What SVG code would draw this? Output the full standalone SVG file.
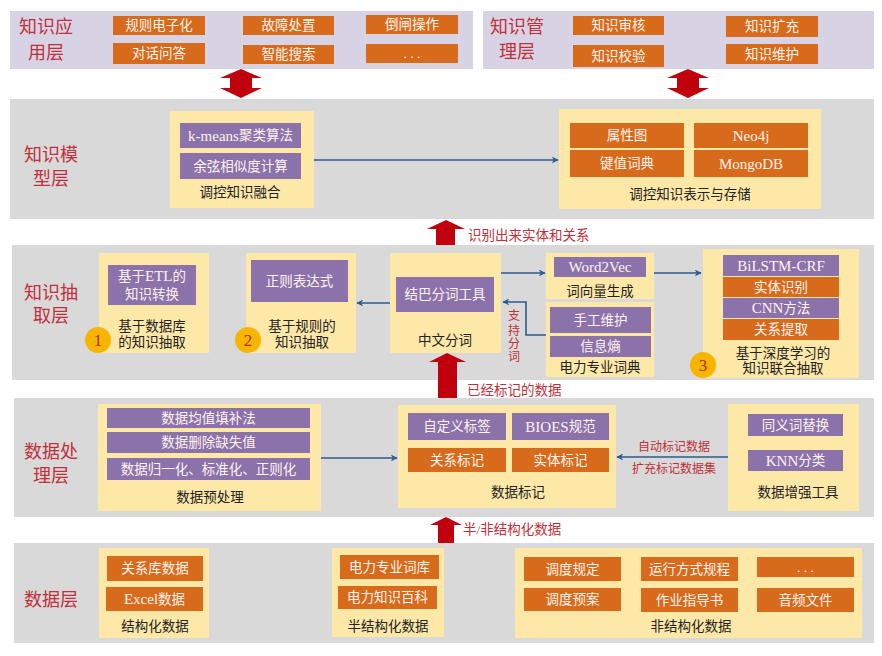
<svg xmlns="http://www.w3.org/2000/svg" width="882" height="656" viewBox="0 0 882 656">
<style>
text{font-family:"Liberation Serif","Noto Sans CJK SC",serif;dominant-baseline:central;text-anchor:middle}
.lav{fill:#d8d3e4}
.gray{fill:#d9d9d9}
.yel{fill:#fde8a8}
.org{fill:#d86a1c}
.pur{fill:#8c72aa}
.lt{fill:#fff4ee;font-size:13.5px}
.ll{fill:#fff4ee;font-size:15px}
.lb{fill:#222;font-size:13.5px}
.lay{fill:#c0303a;font-size:18px}
.rl{fill:#c0303a;font-size:13.5px;text-anchor:start}
.sr{fill:#c0303a;font-size:12px}
.circ{fill:#f7b500}
.cn{fill:#a8321a;font-size:17px}
.bl{stroke:#2e5a8c;stroke-width:1.6;fill:none}
.ra{fill:#c0000d}
</style>
<defs>
<marker id="ah" viewBox="0 0 10 10" refX="9" refY="5" markerWidth="7" markerHeight="7" orient="auto" markerUnits="userSpaceOnUse">
<path d="M0,0 L10,5 L0,10 L3,5 Z" fill="#2e5a8c"/>
</marker>
</defs>
<rect width="882" height="656" fill="#fff"/>

<!-- Layers -->
<g id="layer-app">
<rect class="lav" x="10" y="11" width="463" height="58"/>
<text class="lay" x="46" y="27">知识应</text>
<text class="lay" x="46" y="53">用层</text>
</g>
<g id="layer-mgmt">
<rect class="lav" x="483" y="11" width="391" height="58"/>
<text class="lay" x="517" y="27">知识管</text>
<text class="lay" x="517" y="52">理层</text>
</g>
<g id="layer-model">
<rect class="gray" x="10" y="99" width="864" height="120"/>
<text class="lay" x="51" y="155">知识模</text>
<text class="lay" x="51" y="179">型层</text>
</g>
<g id="layer-extract">
<rect class="gray" x="12" y="245" width="862" height="135"/>
<text class="lay" x="51" y="293">知识抽</text>
<text class="lay" x="51" y="316">取层</text>
</g>
<g id="layer-process">
<rect class="gray" x="14" y="398" width="860" height="119"/>
<text class="lay" x="51" y="452">数据处</text>
<text class="lay" x="51" y="476">理层</text>
</g>
<g id="layer-data">
<rect class="gray" x="14" y="543" width="860" height="100"/>
<text class="lay" x="51" y="600">数据层</text>
</g>

<!-- App layer items -->
<g id="app-items">
<rect class="org" x="113" y="16" width="92" height="19"/><text class="lt" x="159" y="25.5">规则电子化</text>
<rect class="org" x="113" y="43" width="92" height="21"/><text class="lt" x="159" y="53.5">对话问答</text>
<rect class="org" x="243" y="16" width="91" height="19"/><text class="lt" x="288.5" y="25.5">故障处置</text>
<rect class="org" x="243" y="45" width="91" height="19"/><text class="lt" x="288.5" y="54.5">智能搜索</text>
<rect class="org" x="366" y="15" width="92" height="19"/><text class="lt" x="412" y="24.5">倒闸操作</text>
<rect class="org" x="366" y="44" width="92" height="19"/><text class="lt" x="412" y="53.5">. . .</text>
</g>
<g id="mgmt-items">
<rect class="org" x="573" y="16" width="91" height="19"/><text class="lt" x="618.5" y="25.5">知识审核</text>
<rect class="org" x="573" y="45" width="91" height="22"/><text class="lt" x="618.5" y="56">知识校验</text>
<rect class="org" x="726" y="16" width="92" height="21"/><text class="lt" x="772" y="26.5">知识扩充</text>
<rect class="org" x="726" y="44" width="92" height="20"/><text class="lt" x="772" y="54">知识维护</text>
</g>

<!-- Model layer -->
<g id="node-fusion">
<rect class="yel" x="170" y="111" width="144" height="97"/>
<rect class="pur" x="180" y="123" width="121" height="25"/><text class="lt" x="240.5" y="135.5"><tspan font-size="15">k-means</tspan>聚类算法</text>
<rect class="pur" x="180" y="153" width="121" height="26"/><text class="lt" x="240.5" y="166">余弦相似度计算</text>
<text class="lb" x="240" y="192">调控知识融合</text>
</g>
<g id="node-storage">
<rect class="yel" x="559" y="109" width="262" height="100"/>
<rect class="org" x="570" y="123" width="114" height="25"/><text class="lt" x="627" y="135.5">属性图</text>
<rect class="org" x="570" y="150" width="114" height="27"/><text class="lt" x="627" y="163.5">键值词典</text>
<rect class="org" x="694" y="123" width="114" height="25"/><text class="ll" x="751" y="135.5">Neo4j</text>
<rect class="org" x="694" y="150" width="114" height="27"/><text class="ll" x="751" y="163.5">MongoDB</text>
<text class="lb" x="690" y="194">调控知识表示与存储</text>
</g>

<!-- Extraction layer -->
<g id="node-db-extract">
<rect class="yel" x="99" y="253" width="110" height="100"/>
<rect class="pur" x="108" y="265" width="88" height="40"/>
<text class="lt" x="152" y="276">基于<tspan font-size="15">ETL</tspan>的</text>
<text class="lt" x="152" y="294">知识转换</text>
<text class="lb" x="152" y="326">基于数据库</text>
<text class="lb" x="152" y="342">的知识抽取</text>
<circle class="circ" cx="98" cy="340" r="13"/><text class="cn" x="98" y="340">1</text>
</g>
<g id="node-rule-extract">
<rect class="yel" x="246" y="253" width="110" height="100"/>
<rect class="pur" x="251" y="260" width="97" height="42"/><text class="lt" x="299.5" y="281">正则表达式</text>
<text class="lb" x="302" y="326">基于规则的</text>
<text class="lb" x="302" y="342">知识抽取</text>
<circle class="circ" cx="248" cy="340" r="13"/><text class="cn" x="248" y="340">2</text>
</g>
<g id="node-segment">
<rect class="yel" x="390" y="253" width="111" height="100"/>
<rect class="pur" x="396" y="277" width="98" height="35"/><text class="lt" x="445" y="294.5">结巴分词工具</text>
<text class="lb" x="445" y="340">中文分词</text>
</g>
<g id="node-word2vec">
<rect class="yel" x="546" y="253" width="108" height="46"/>
<rect class="pur" x="554" y="257" width="92" height="20"/><text class="ll" x="600" y="267">Word2Vec</text>
<text class="lb" x="600" y="291">词向量生成</text>
</g>
<g id="node-dict">
<rect class="yel" x="546" y="302" width="108" height="75"/>
<rect class="pur" x="550" y="307" width="101" height="26"/><text class="lt" x="600.5" y="320">手工维护</text>
<rect class="pur" x="550" y="336" width="101" height="21"/><text class="lt" x="600.5" y="346.5">信息熵</text>
<text class="lb" x="600" y="367">电力专业词典</text>
</g>
<g id="node-deep">
<rect class="yel" x="703" y="249" width="156" height="129"/>
<rect class="pur" x="723" y="255" width="116" height="21"/><text class="ll" x="781" y="265.5">BiLSTM-CRF</text>
<rect class="org" x="723" y="277" width="116" height="20"/><text class="lt" x="781" y="287">实体识别</text>
<rect class="pur" x="723" y="298" width="116" height="20"/><text class="lt" x="781" y="308"><tspan font-size="15">CNN</tspan>方法</text>
<rect class="org" x="723" y="319" width="116" height="21"/><text class="lt" x="781" y="329.5">关系提取</text>
<text class="lb" x="783" y="353">基于深度学习的</text>
<text class="lb" x="783" y="368">知识联合抽取</text>
<circle class="circ" cx="703" cy="365" r="13"/><text class="cn" x="703" y="365">3</text>
</g>

<!-- Processing layer -->
<g id="node-preprocess">
<rect class="yel" x="98" y="404" width="223" height="107"/>
<rect class="pur" x="107" y="408" width="203" height="20"/><text class="lt" x="208.5" y="418">数据均值填补法</text>
<rect class="pur" x="107" y="432" width="203" height="21"/><text class="lt" x="208.5" y="442.5">数据删除缺失值</text>
<rect class="pur" x="107" y="458" width="203" height="22"/><text class="lt" x="208.5" y="469">数据归一化、标准化、正则化</text>
<text class="lb" x="210" y="497">数据预处理</text>
</g>
<g id="node-label">
<rect class="yel" x="398" y="405" width="218" height="103"/>
<rect class="pur" x="408" y="413" width="98" height="27"/><text class="lt" x="457" y="426.5">自定义标签</text>
<rect class="pur" x="512" y="413" width="97" height="27"/><text class="lt" x="560.5" y="426.5"><tspan font-size="15">BIOES</tspan>规范</text>
<rect class="org" x="408" y="448" width="98" height="24"/><text class="lt" x="457" y="460">关系标记</text>
<rect class="org" x="512" y="448" width="97" height="24"/><text class="lt" x="560.5" y="460">实体标记</text>
<text class="lb" x="518" y="492">数据标记</text>
</g>
<g id="node-augment">
<rect class="yel" x="728" y="404" width="131" height="107"/>
<rect class="pur" x="748" y="414" width="95" height="22"/><text class="lt" x="795.5" y="425">同义词替换</text>
<rect class="pur" x="748" y="450" width="95" height="21"/><text class="lt" x="795.5" y="460.5"><tspan font-size="15">KNN</tspan>分类</text>
<text class="lb" x="798" y="492">数据增强工具</text>
</g>

<!-- Data layer -->
<g id="node-structured">
<rect class="yel" x="99" y="548" width="110" height="90"/>
<rect class="org" x="107" y="556" width="96" height="25"/><text class="lt" x="155" y="568.5">关系库数据</text>
<rect class="org" x="106" y="587" width="97" height="24"/><text class="lt" x="154.5" y="599"><tspan font-size="15">Excel</tspan>数据</text>
<text class="lb" x="155" y="626">结构化数据</text>
</g>
<g id="node-semi">
<rect class="yel" x="332" y="548" width="112" height="89"/>
<rect class="org" x="340" y="555" width="99" height="24"/><text class="lt" x="389.5" y="567">电力专业词库</text>
<rect class="org" x="338" y="586" width="99" height="23"/><text class="lt" x="387.5" y="597.5">电力知识百科</text>
<text class="lb" x="388" y="626">半结构化数据</text>
</g>
<g id="node-unstructured">
<rect class="yel" x="515" y="548" width="347" height="90"/>
<rect class="org" x="524" y="557" width="97" height="24"/><text class="lt" x="572.5" y="569">调度规定</text>
<rect class="org" x="641" y="557" width="97" height="24"/><text class="lt" x="689.5" y="569">运行方式规程</text>
<rect class="org" x="757" y="557" width="97" height="20"/><text class="lt" x="805.5" y="567">. . .</text>
<rect class="org" x="524" y="588" width="97" height="23"/><text class="lt" x="572.5" y="599.5">调度预案</text>
<rect class="org" x="641" y="588" width="97" height="24"/><text class="lt" x="689.5" y="600">作业指导书</text>
<rect class="org" x="757" y="588" width="97" height="24"/><text class="lt" x="805.5" y="600">音频文件</text>
<text class="lb" x="691" y="626">非结构化数据</text>
</g>

<!-- Connectors -->
<g id="connectors">
<polygon class="ra" points="241,69 262,78 252,78 252,88 262,88 241,98 220,88 230,88 230,78 220,78"/>
<polygon class="ra" points="688,69 709,78 699,78 699,88 709,88 688,98 667,88 677,88 677,78 667,78"/>
<polygon class="ra" points="446,220 465,229 455,229 455,245 436,245 436,229 427,229"/>
<polygon class="ra" points="447,353 466,362 457,362 457,398 438,398 438,362 429,362"/>
<polygon class="ra" points="446,517 462,525 454,525 454,543 438,543 438,525 430,525"/>
<text class="rl" x="468" y="235">识别出来实体和关系</text>
<text class="rl" x="467" y="390">已经标记的数据</text>
<text class="rl" x="463" y="529">半/非结构化数据</text>

<line class="bl" x1="314" y1="160" x2="558" y2="160" marker-end="url(#ah)"/>
<line class="bl" x1="390" y1="303" x2="357" y2="303" marker-end="url(#ah)"/>
<line class="bl" x1="501" y1="273" x2="545" y2="273" marker-end="url(#ah)"/>
<line class="bl" x1="654" y1="273" x2="701" y2="273" marker-end="url(#ah)"/>
<polyline class="bl" points="546,335 526,335 526,302 503,302" marker-end="url(#ah)"/>
<text class="sr" x="514" y="316">支</text>
<text class="sr" x="514" y="331">持</text>
<text class="sr" x="514" y="344">分</text>
<text class="sr" x="514" y="357">词</text>
<line class="bl" x1="321" y1="458" x2="397" y2="458" marker-end="url(#ah)"/>
<line class="bl" x1="728" y1="457" x2="617" y2="457" marker-end="url(#ah)"/>
<text class="sr" x="674" y="447">自动标记数据</text>
<text class="sr" x="674" y="469">扩充标记数据集</text>
</g>
</svg>
